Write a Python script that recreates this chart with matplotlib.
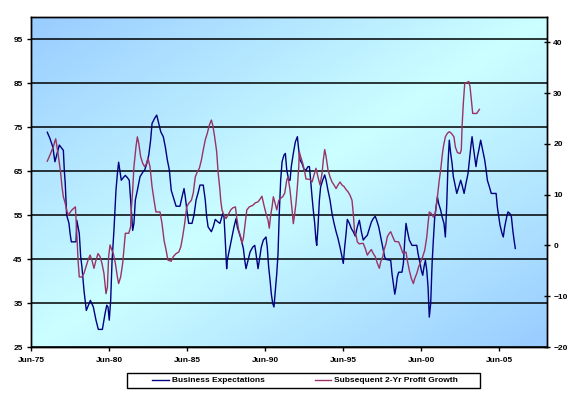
import numpy as np
import matplotlib
matplotlib.use("Agg")
import matplotlib.pyplot as plt
from matplotlib.patches import Rectangle
from matplotlib.colors import LinearSegmentedColormap

# ---------------- data ----------------
biz_years = [1976.46, 1976.63, 1976.81, 1976.95, 1977.23, 1977.40, 1977.49, 1977.55, 1977.61, 1977.70,
             1977.85, 1977.92, 1978.00, 1978.30, 1978.35, 1978.43, 1978.51, 1978.60, 1978.68, 1978.81,
             1978.96, 1979.05, 1979.22, 1979.41, 1979.58, 1979.73, 1979.99, 1980.16, 1980.27, 1980.35,
             1980.43, 1980.52, 1980.61, 1980.73, 1980.86, 1980.95, 1981.03, 1981.12, 1981.20, 1981.33,
             1981.46, 1981.59, 1981.71, 1981.80, 1981.93, 1982.01, 1982.10, 1982.23, 1982.40, 1982.59,
             1982.70, 1982.83, 1982.96, 1983.08, 1983.17, 1983.34, 1983.47, 1983.60, 1983.73, 1983.89,
             1984.02, 1984.15, 1984.28, 1984.40, 1984.53, 1984.71, 1984.96, 1985.09, 1985.22, 1985.30,
             1985.43, 1985.52, 1985.73, 1985.86, 1985.99, 1986.11, 1986.24, 1986.45, 1986.58, 1986.67,
             1986.76, 1986.97, 1987.09, 1987.22, 1987.40, 1987.52, 1987.61, 1987.70, 1987.78, 1987.86,
             1987.95, 1987.99, 1988.12, 1988.25, 1988.42, 1988.55, 1988.63, 1988.76, 1988.89, 1989.02,
             1989.11, 1989.19, 1989.32, 1989.45, 1989.62, 1989.75, 1989.83, 1989.96, 1990.04, 1990.17,
             1990.30, 1990.47, 1990.55, 1990.64, 1990.73, 1990.81, 1990.90, 1990.98, 1991.07, 1991.16,
             1991.24, 1991.32, 1991.41, 1991.50, 1991.62, 1991.71, 1991.80, 1991.93, 1992.01, 1992.09,
             1992.22, 1992.35, 1992.48, 1992.57, 1992.65, 1992.78, 1992.90, 1993.03, 1993.16, 1993.25,
             1993.33, 1993.42, 1993.50, 1993.59, 1993.67, 1993.72, 1993.80, 1993.89, 1993.97, 1994.10,
             1994.23, 1994.32, 1994.44, 1994.57, 1994.70, 1994.83, 1994.96, 1995.08, 1995.21, 1995.34,
             1995.42, 1995.51, 1995.60, 1995.68, 1995.81, 1995.94, 1996.06, 1996.19, 1996.32, 1996.45,
             1996.58, 1996.70, 1996.83, 1996.96, 1997.09, 1997.22, 1997.34, 1997.47, 1997.56, 1997.69,
             1997.82, 1997.95, 1998.07, 1998.16, 1998.46, 1998.54, 1998.63, 1998.72, 1998.80, 1998.88,
             1998.97, 1999.18, 1999.27, 1999.36, 1999.44, 1999.52, 1999.65, 1999.82, 2000.13, 2000.21,
             2000.34, 2000.42, 2000.51, 2000.59, 2000.68, 2000.77, 2000.85, 2000.93, 2001.02, 2001.11,
             2001.19, 2001.28, 2001.36, 2001.45, 2001.53, 2001.66, 2001.75, 2001.87, 2001.96, 2002.05,
             2002.13, 2002.21, 2002.30, 2002.39, 2002.47, 2002.56, 2002.69, 2002.82, 2002.94, 2003.03,
             2003.16, 2003.28, 2003.41, 2003.50, 2003.59, 2003.67, 2003.75, 2003.84, 2003.92, 2004.01,
             2004.10, 2004.22, 2004.35, 2004.48, 2004.57, 2004.65, 2004.78, 2004.90, 2005.21, 2005.29,
             2005.38, 2005.46, 2005.59, 2005.67, 2005.76, 2005.89, 2005.97, 2006.10, 2006.19, 2006.28,
             2006.36, 2006.44]
biz_values = [73.8, 72.4, 70.5, 67.1, 70.9, 70.1, 69.7, 65.2, 62.2, 55.0,
              53.1, 50.8, 48.9, 48.9, 53.8, 52.3, 50.8, 45.5, 43.2, 37.9,
              33.3, 34.1, 35.6, 34.1, 31.1, 29.0, 29.0, 32.6, 34.5, 34.1,
              31.1, 35.6, 44.7, 51.5, 60.6, 64.4, 67.0, 64.8, 62.9, 63.5,
              64.0, 63.5, 62.9, 58.4, 51.5, 53.1, 58.4, 60.6, 63.7, 64.8,
              65.2, 66.7, 68.6, 72.0, 75.8, 77.0, 77.7, 75.8, 73.9, 72.8,
              70.5, 67.5, 65.2, 60.6, 59.1, 57.0, 57.0, 59.1, 61.0, 59.1,
              55.3, 53.1, 53.1, 55.0, 58.4, 59.9, 61.8, 61.8, 58.4, 54.6,
              52.3, 51.2, 52.3, 54.0, 53.4, 53.1, 54.2, 55.3, 54.6, 49.3,
              42.8, 44.7, 47.0, 49.3, 52.3, 54.2, 52.3, 50.8, 49.3, 47.4,
              44.7, 42.8, 44.7, 46.6, 47.7, 48.1, 46.2, 42.8, 44.7, 47.7,
              49.3, 50.0, 47.7, 43.2, 40.2, 37.1, 34.9, 34.1, 37.9, 41.7,
              46.2, 55.3, 62.9, 67.1, 68.6, 69.0, 65.2, 62.9, 62.9, 66.0,
              69.0, 71.6, 72.8, 69.7, 67.5, 66.7, 65.4, 65.2, 66.0, 66.0,
              62.9, 59.1, 56.1, 53.1, 49.3, 48.1, 52.3, 58.4, 61.4, 62.9,
              64.1, 62.9, 60.6, 58.4, 55.3, 53.1, 51.2, 49.7, 47.7, 45.5,
              44.0, 47.7, 50.8, 54.0, 53.1, 51.9, 51.2, 50.2, 52.3, 53.8,
              51.2, 49.3, 49.9, 50.4, 51.9, 53.4, 54.2, 54.7, 53.8, 52.3,
              50.0, 47.7, 45.5, 44.9, 44.7, 41.7, 39.4, 37.0, 38.6, 40.9,
              42.0, 42.0, 44.0, 49.3, 53.1, 51.5, 49.3, 48.1, 48.1, 46.2,
              44.0, 42.4, 41.3, 43.2, 44.7, 42.4, 38.6, 31.8, 34.9, 44.0,
              49.3, 54.6, 56.8, 59.1, 57.6, 56.1, 54.6, 53.1, 50.0, 57.6,
              66.7, 72.0, 69.0, 66.7, 63.7, 62.2, 59.9, 61.4, 62.9, 61.8,
              59.9, 62.2, 64.4, 67.5, 70.5, 72.8, 70.5, 68.2, 66.0, 68.2,
              69.7, 72.0, 69.7, 67.5, 65.2, 62.9, 61.4, 59.9, 59.9, 56.8,
              54.6, 52.7, 50.8, 50.0, 52.3, 54.6, 55.7, 55.3, 54.6, 51.5,
              49.3, 47.4]

prof_years = [1976.46, 1976.63, 1976.76, 1976.85, 1976.93, 1977.00, 1977.06, 1977.15, 1977.23, 1977.32,
              1977.40, 1977.49, 1977.61, 1977.70, 1977.79, 1977.87, 1978.04, 1978.26, 1978.35, 1978.43,
              1978.51, 1978.68, 1978.81, 1978.94, 1979.07, 1979.20, 1979.32, 1979.45, 1979.58, 1979.71,
              1979.84, 1979.96, 1980.09, 1980.22, 1980.31, 1980.39, 1980.48, 1980.56, 1980.69, 1980.82,
              1980.95, 1981.03, 1981.16, 1981.29, 1981.38, 1981.46, 1981.68, 1981.80, 1981.84, 1981.93,
              1982.01, 1982.14, 1982.23, 1982.32, 1982.44, 1982.57, 1982.70, 1982.83, 1982.91, 1983.04,
              1983.17, 1983.30, 1983.42, 1983.68, 1983.81, 1983.94, 1984.07, 1984.19, 1984.40, 1984.53,
              1984.71, 1984.88, 1985.01, 1985.13, 1985.26, 1985.39, 1985.52, 1985.69, 1985.81, 1985.94,
              1986.07, 1986.20, 1986.33, 1986.45, 1986.58, 1986.71, 1986.84, 1986.97, 1987.06, 1987.18,
              1987.31, 1987.40, 1987.52, 1987.57, 1987.65, 1987.78, 1987.91, 1988.04, 1988.21, 1988.34,
              1988.51, 1988.59, 1988.72, 1988.85, 1988.93, 1989.02, 1989.11, 1989.24, 1989.40, 1989.62,
              1989.79, 1989.96, 1990.13, 1990.21, 1990.34, 1990.47, 1990.60, 1990.68, 1990.77, 1990.86,
              1990.94, 1991.03, 1991.16, 1991.29, 1991.41, 1991.54, 1991.67, 1991.80, 1991.88, 1992.01,
              1992.14, 1992.22, 1992.31, 1992.39, 1992.48, 1992.57, 1992.60, 1992.69, 1992.82, 1992.95,
              1993.03, 1993.29, 1993.42, 1993.55, 1993.67, 1993.80, 1993.93, 1994.06, 1994.14, 1994.23,
              1994.32, 1994.44, 1994.57, 1994.70, 1994.83, 1994.96, 1995.08, 1995.21, 1995.34, 1995.47,
              1995.60, 1995.72, 1995.85, 1995.98, 1996.06, 1996.15, 1996.24, 1996.32, 1996.45, 1996.58,
              1996.70, 1996.83, 1996.96, 1997.09, 1997.22, 1997.34, 1997.47, 1997.60, 1997.73, 1997.82,
              1997.95, 1998.03, 1998.16, 1998.24, 1998.37, 1998.46, 1998.59, 1998.72, 1998.97, 1999.10,
              1999.23, 1999.44, 1999.52, 1999.65, 1999.78, 1999.91, 2000.00, 2000.13, 2000.25, 2000.38,
              2000.51, 2000.64, 2000.77, 2000.85, 2000.93, 2001.06, 2001.19, 2001.32, 2001.45, 2001.57,
              2001.66, 2001.75, 2001.83, 2001.96, 2002.09, 2002.21, 2002.34, 2002.51, 2002.60, 2002.73,
              2002.90, 2002.98, 2003.03, 2003.11, 2003.20, 2003.33, 2003.46, 2003.54, 2003.62, 2003.71,
              2003.97, 2004.14]
prof_values = [16.6, 17.8, 18.8, 19.4, 20.4, 21.0, 19.8, 18.1, 16.2, 14.2,
               11.6, 9.6, 8.3, 7.0, 6.0, 6.3, 7.0, 7.6, 2.4, -2.9,
               -6.2, -6.2, -5.5, -4.2, -2.9, -1.9, -2.9, -4.5, -2.9, -1.6,
               -2.2, -3.5, -5.5, -9.5, -8.2, -2.2, 0.1, -0.6, -1.6, -3.5,
               -6.2, -7.5, -6.2, -3.5, -0.3, 2.4, 2.4, 3.7, 7.0, 10.9,
               15.5, 19.4, 21.4, 20.1, 17.5, 16.2, 15.5, 16.2, 17.2, 15.5,
               11.6, 8.9, 6.6, 6.6, 4.3, 1.0, -0.9, -2.9, -3.1, -2.2,
               -1.6, -1.3, -0.3, 1.7, 4.3, 7.6, 8.3, 8.9, 10.3, 13.5,
               14.5, 15.2, 16.8, 18.8, 20.8, 22.1, 23.7, 24.7, 23.7, 21.4,
               18.5, 14.5, 10.9, 8.9, 7.0, 6.0, 5.3, 6.0, 7.0, 7.4,
               7.6, 5.6, 3.0, 1.7, 0.4, 1.4, 3.7, 7.0, 7.6, 7.9,
               8.4, 8.6, 9.3, 9.7, 7.9, 6.3, 5.0, 3.4, 6.0, 7.6,
               9.6, 8.6, 7.0, 8.9, 9.3, 9.6, 10.3, 12.9, 13.5, 10.9,
               7.0, 4.3, 6.3, 8.3, 11.6, 15.5, 18.5, 17.5, 16.2, 14.5,
               13.1, 13.0, 12.5, 13.9, 15.2, 13.5, 11.9, 14.2, 16.8, 18.9,
               17.5, 14.9, 13.5, 12.5, 11.9, 11.2, 11.9, 12.5, 11.9, 11.6,
               11.0, 10.6, 9.9, 8.9, 6.3, 2.4, 2.0, 0.7, 0.3, 0.4,
               0.4, -0.6, -1.9, -1.3, -0.8, -1.6, -2.2, -3.5, -4.5, -3.2,
               -2.2, -0.9, 0.4, 1.7, 2.4, 2.7, 1.7, 0.8, 0.7, -0.3,
               -1.5, -1.3, -2.9, -4.9, -6.5, -7.5, -6.5, -5.5, -4.2, -3.2,
               -2.2, -0.9, 1.7, 4.3, 6.6, 6.3, 5.6, 6.3, 9.6, 12.9,
               14.9, 17.5, 19.4, 21.4, 22.1, 22.4, 22.1, 21.4, 19.4, 18.3,
               18.1, 18.8, 23.4, 28.0, 31.9, 32.1, 32.3, 31.3, 28.7, 26.0,
               26.0, 26.8]

x_tick_years = [1975.417, 1980.417, 1985.417, 1990.417, 1995.417, 2000.417, 2005.417]
x_tick_labels = ["Jun-75", "Jun-80", "Jun-85", "Jun-90", "Jun-95", "Jun-00", "Jun-05"]
left_ticks = [25, 35, 45, 55, 65, 75, 85, 95]
right_ticks = [-20, -10, 0, 10, 20, 30, 40]
series_names = ["Business Expectations", "Subsequent 2-Yr Profit Growth"]

# ---------------- figure ----------------
plt.rcParams['font.family'] = ['Liberation Sans', 'DejaVu Sans']
fig = plt.figure(figsize=(5.76, 3.94), dpi=100)
fig.patch.set_facecolor('white')

W, H = 576, 394
L, R, T, B = 31, 547, 17, 347
pos = [L / W, 1 - B / H, (R - L) / W, (B - T) / H]

# gradient background
bg = fig.add_axes(pos, zorder=-1)
nx, ny = 300, 200
gx = np.linspace(0, 1, nx)
gy = np.linspace(0, 1, ny)
GX, GY = np.meshgrid(gx, gy)
u = (GX + GY) / 2.0
s = 1 - np.abs(u - 0.5) * 2  # 1 at the middle, 0 at corners
cmap = LinearSegmentedColormap.from_list("bg", ["#99CCFF", "#CCFFFF"])
bg.imshow(s, cmap=cmap, extent=[0, 1, 0, 1], origin='upper', aspect='auto', vmin=0, vmax=1)
bg.set_axis_off()

ax = fig.add_axes(pos)
ax.patch.set_alpha(0)
ax.set_xlim(1975.417, 2008.47)
ax.set_ylim(25, 100)
ax.set_yticks(left_ticks)
ax.set_xticks(x_tick_years)
ax.set_xticklabels(x_tick_labels)
ax.yaxis.grid(True, color='black', lw=1.1)
ax.set_axisbelow(True)
ax.plot(biz_years, biz_values, color='#000080', lw=1.0, label=series_names[0], zorder=3)

ax2 = ax.twinx()
ax2.set_ylim(-20, 45)
ax2.set_yticks(right_ticks)
ax2.plot(prof_years, prof_values, color='#993366', lw=1.0, label=series_names[1], zorder=3)

for a in (ax, ax2):
    for sp in a.spines.values():
        sp.set_color('black')
        sp.set_linewidth(1.0)
ax.tick_params(axis='y', direction='out', length=3, width=1, labelsize=6, pad=3)
ax.tick_params(axis='x', direction='out', length=3, width=1, labelsize=6, pad=4)
ax2.tick_params(axis='y', direction='inout', length=5, width=1, labelsize=6, pad=2)
for lab in ax.get_xticklabels() + ax.get_yticklabels() + ax2.get_yticklabels():
    lab.set_fontweight('bold')

# legend with separate frame
lx0, lx1, ly0, ly1 = 127, 480, 373, 388
fig.patches.append(Rectangle((lx0 / W, 1 - ly1 / H), (lx1 - lx0) / W, (ly1 - ly0) / H,
                             transform=fig.transFigure, facecolor='white', edgecolor='black',
                             lw=1.0, zorder=1))
h1, l1 = ax.get_legend_handles_labels()
h2, l2 = ax2.get_legend_handles_labels()
leg = fig.legend(h1 + h2, l1 + l2, loc='center', bbox_to_anchor=(305 / W, 1 - 380.5 / H),
                 ncol=2, frameon=False, prop={'size': 6, 'weight': 'bold'},
                 handlelength=2.0, handletextpad=0.3, columnspacing=6.0)
leg.set_zorder(2)

fig.savefig("out.png", dpi=100)
